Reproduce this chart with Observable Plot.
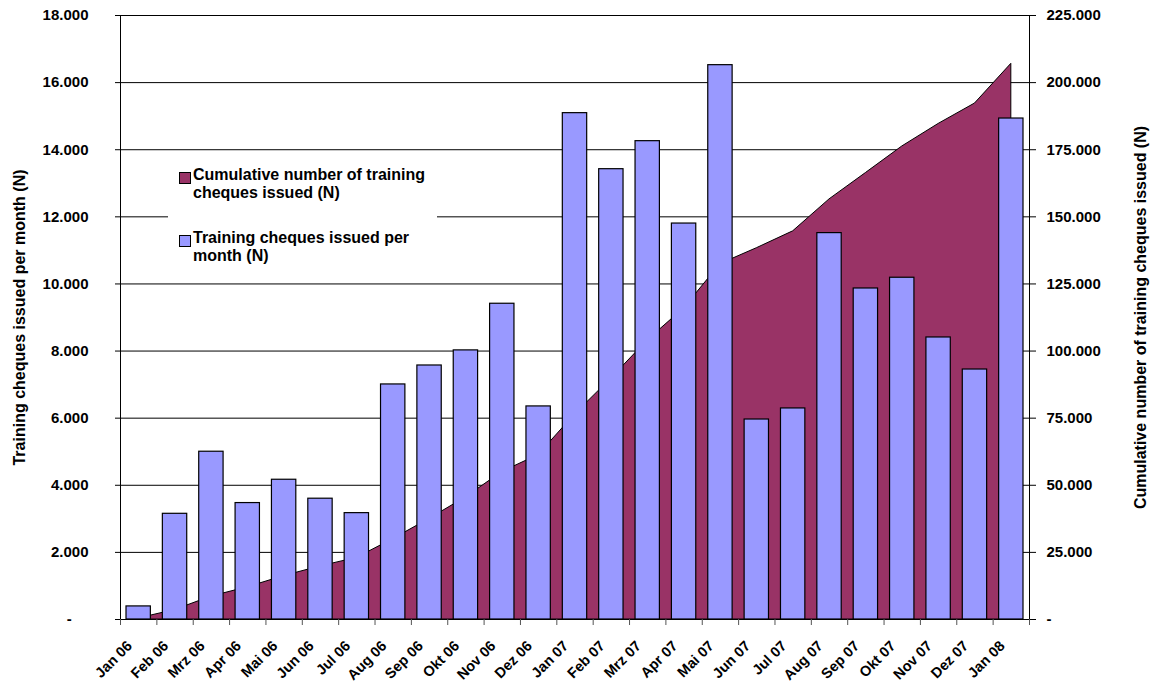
<!DOCTYPE html>
<html>
<head>
<meta charset="utf-8">
<script src="https://cdn.jsdelivr.net/npm/d3@7"></script>
<script src="https://cdn.jsdelivr.net/npm/@observablehq/plot@0.6"></script>
<style>
  html, body { margin: 0; padding: 0; background: #fff; }
  #wrap { position: relative; width: 1156px; height: 684px; font-family: "Liberation Sans", Arial, sans-serif; }
  #legend { position: absolute; left: 168px; top: 158px; width: 269px; height: 118px; background: #fff;
            font: bold 16px "Liberation Sans", Arial, sans-serif; color: #000; line-height: 18px; }
  .entry { position: absolute; left: 25px; white-space: nowrap; }
  .sw { position: absolute; left: 11px; width: 10px; height: 10px; border: 1px solid #000; }
</style>
</head>
<body>
<div id="wrap">
  <div id="chart"></div>
  <div id="legend">
    <div class="sw" style="top:14px;background:#993366"></div>
    <div class="entry" style="top:8px">Cumulative number of training<br>cheques issued (N)</div>
    <div class="sw" style="top:77px;background:#9999FF"></div>
    <div class="entry" style="top:71px">Training cheques issued per<br>month (N)</div>
  </div>
</div>
<script>
// Months of the programme, January 2006 to January 2008
const months = ["Jan 06","Feb 06","Mrz 06","Apr 06","Mai 06","Jun 06","Jul 06","Aug 06","Sep 06","Okt 06","Nov 06","Dez 06",
                "Jan 07","Feb 07","Mrz 07","Apr 07","Mai 07","Jun 07","Jul 07","Aug 07","Sep 07","Okt 07","Nov 07","Dez 07","Jan 08"];

// Training cheques issued in each month (left axis)
const monthly = [390, 3150, 5000, 3470, 4165, 3600, 3170, 7005, 7570, 8020, 9410, 6350,
                 15090, 13420, 14255, 11800, 16520, 5960, 6290, 11515, 9865, 10185, 8405, 7450, 14930];

// Cumulative number of cheques issued (right axis)
const cumulative = [390, 3540, 8540, 12010, 16180, 19780, 22950, 29950, 37500, 45500, 54950, 61300,
                    76400, 89800, 104000, 115900, 132400, 138300, 144600, 156500, 166300, 176200, 184600, 192200, 207000];

// Axis tick values
const leftTicks = [0, 2000, 4000, 6000, 8000, 10000, 12000, 14000, 16000, 18000];
const rightMax = 225000, leftMax = 18000;
const ratio = rightMax / leftMax;

const de = d3.formatLocale({decimal: ",", thousands: ".", grouping: [3], currency: ["", " €"]});
const fmt = de.format(",.0f");

const rows = months.map((m, i) => ({i, month: m, monthly: monthly[i], cumulative: cumulative[i]}));

const font = {fontFamily: "'Liberation Sans', Arial, sans-serif", fontWeight: "bold"};

const chart = Plot.plot({
  width: 1156,
  height: 684,
  marginLeft: 120,
  marginRight: 127,
  marginTop: 15,
  marginBottom: 65,
  x: {type: "linear", domain: [0, months.length], axis: null},
  y: {domain: [0, leftMax], axis: null},
  marks: [
    // horizontal gridlines
    Plot.ruleY(leftTicks.filter(d => d > 0), {stroke: "#000", strokeWidth: 1}),
    // cumulative area, scaled onto the left axis domain
    Plot.areaY(rows, {x: d => d.i + 0.5, y: d => d.cumulative / ratio, fill: "#993366", stroke: "#000", strokeWidth: 1}),
    // monthly bars
    Plot.rectY(rows, {x1: d => d.i + 0.165, x2: d => d.i + 0.835, y: "monthly", fill: "#9999FF", stroke: "#000", strokeWidth: 1.2}),
    // axis lines
    Plot.ruleX([0, months.length], {stroke: "#000", strokeWidth: 1}),
    Plot.ruleY([0], {stroke: "#000", strokeWidth: 1}),
    // category boundary ticks
    Plot.axisX({ticks: d3.range(0, months.length + 1), tickSize: 6, tickFormat: () => "", stroke: "#555", label: null}),
    // month labels
    Plot.axisX({ticks: d3.range(months.length).map(i => i + 0.5), tickSize: 0, tickPadding: 24, dx: -9, label: null,
                tickRotate: -45, tickFormat: d => months[Math.floor(d)], fontSize: 14.5, ...font, fill: "#000"}),
    // left axis
    Plot.axisY({anchor: "left", ticks: leftTicks, tickSize: 5, tickPadding: 27, stroke: "#000", label: null,
                tickFormat: d => d === 0 ? "-\u00a0\u00a0\u00a0\u00a0" : fmt(d), fontSize: 15, ...font, fill: "#000"}),
    // right axis, cumulative scale
    Plot.axisY({anchor: "right", ticks: leftTicks, tickSize: 6, tickPadding: 11, stroke: "#000", label: null,
                tickFormat: d => d === 0 ? "-" : fmt(d * ratio), fontSize: 15, ...font, fill: "#000"}),
    // axis titles
    Plot.text(["Training cheques issued per month (N)"], {frameAnchor: "left", textAnchor: "middle", dx: -101, rotate: -90,
                fontSize: 16, ...font, fill: "#000"}),
    Plot.text(["Cumulative number of training cheques issued (N)"], {frameAnchor: "right", textAnchor: "middle", dx: 111, dy: 0, rotate: -90,
                fontSize: 16, ...font, fill: "#000"})
  ]
});

document.getElementById("chart").appendChild(chart);
</script>
</body>
</html>
